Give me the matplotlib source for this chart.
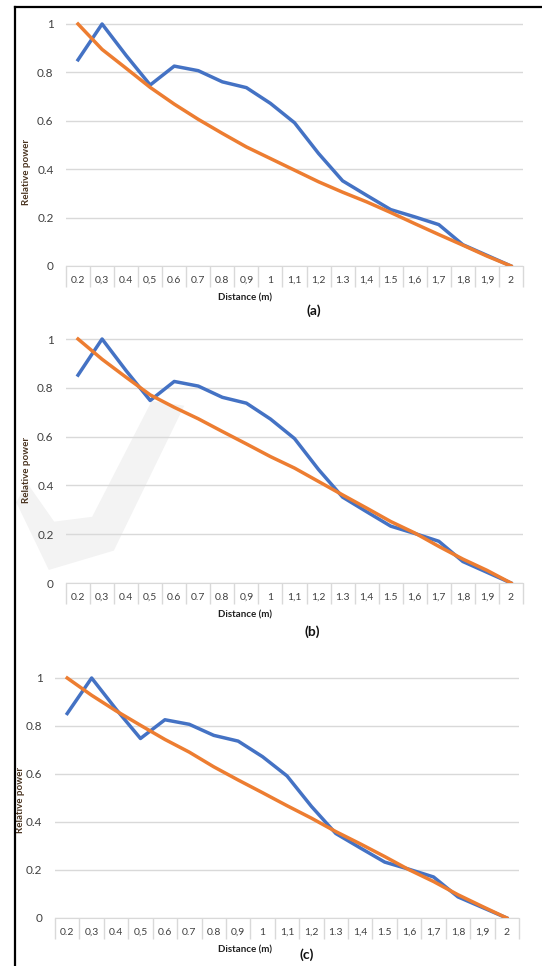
import numpy as np
import matplotlib
matplotlib.use("Agg")
import matplotlib.pyplot as plt
from matplotlib.lines import Line2D

# distance categories (as printed on the axis)
distances = ["0.2", "0,3", "0.4", "0,5", "0.6", "0.7", "0.8", "0,9", "1", "1,1",
             "1,2", "1.3", "1,4", "1.5", "1,6", "1,7", "1,8", "1,9", "2"]

# measured relative power (same in all three panels)
measured = [0.852, 1.0, 0.87, 0.748, 0.826, 0.807, 0.761, 0.737, 0.672, 0.592,
            0.465, 0.352, 0.292, 0.233, 0.203, 0.171, 0.088, 0.044, 0.0]

# model curves for (a), (b), (c)
model_a = [1.0, 0.895, 0.817, 0.738, 0.669, 0.606, 0.548, 0.492, 0.444, 0.396,
           0.348, 0.305, 0.265, 0.221, 0.175, 0.130, 0.086, 0.041, 0.0]
model_b = [1.0, 0.917, 0.843, 0.771, 0.720, 0.673, 0.621, 0.570, 0.518, 0.471,
           0.416, 0.361, 0.307, 0.252, 0.205, 0.150, 0.098, 0.052, 0.0]
model_c = [1.0, 0.928, 0.863, 0.803, 0.744, 0.691, 0.630, 0.575, 0.522, 0.468,
           0.416, 0.360, 0.309, 0.256, 0.201, 0.152, 0.097, 0.048, 0.0]

yticks = [0, 0.2, 0.4, 0.6, 0.8, 1]
ytick_labels = ["0", "0.2", "0.4", "0.6", "0.8", "1"]

BLUE = "#4472C4"
ORANGE = "#ED7D31"
GRID = "#d9d9d9"

plt.rcParams["font.family"] = ["Lato", "DejaVu Sans"]

W, H = 542, 966
fig = plt.figure(figsize=(W / 100, H / 100), dpi=100)

# faint check-mark shape from the publisher watermark
check = plt.Polygon([(0.03, 0.48), (0.09, 0.41), (0.21, 0.43), (0.34, 0.58),
                     (0.28, 0.585), (0.17, 0.465), (0.10, 0.46), (0.05, 0.50)],
                    closed=True, transform=fig.transFigure, color="#f3f3f3",
                    zorder=0, lw=0)
fig.add_artist(check)

# panels: tag, model, left px, right px, zero px, unit px,
# ylabel x/y (axes coords), xlabel y px, tag x px, tag y px
panels = [
    ("(a)", model_a, 66, 523, 266, 242, -0.077, 0.37, 298, 314, 311),
    ("(b)", model_b, 66, 523, 583, 244, -0.077, 0.44, 615, 312, 632),
    ("(c)", model_c, 55, 519, 918, 240, -0.065, 0.47, 950, 307, 955),
]

x = np.arange(len(distances))
ytop = 1.05

for tag, model, left, right, zero, unit, ylx, yly, xly, tx, ty in panels:
    ax = fig.add_axes([left / W, (H - zero) / H, (right - left) / W,
                       unit * ytop / H])
    ax.patch.set_alpha(0)
    ax.plot(x, measured, color=BLUE, lw=2.5, solid_joinstyle="round", zorder=3)
    ax.plot(x, model, color=ORANGE, lw=2.5, solid_joinstyle="round", zorder=4)

    ax.set_xlim(-0.5, len(distances) - 0.5)
    ax.set_ylim(0, ytop)

    ax.set_yticks(yticks)
    ax.set_yticklabels(ytick_labels)
    ax.tick_params(axis="y", length=0, pad=9, labelsize=8.5, labelcolor="#404040")
    ax.yaxis.grid(True, color=GRID, lw=1)
    ax.set_axisbelow(True)

    # category box under the axis
    ax.set_xticks(np.arange(len(distances) + 1) - 0.5)
    ax.set_xticklabels([])
    ax.tick_params(axis="x", which="major", length=15, color=GRID, width=1,
                   direction="out")
    ax.set_xticks(x, minor=True)
    ax.set_xticklabels(distances, minor=True)
    ax.tick_params(axis="x", which="minor", length=0, pad=7, labelsize=7.5,
                   labelcolor="#404040")

    for s in ["top", "right", "left"]:
        ax.spines[s].set_visible(False)
    ax.spines["bottom"].set_color(GRID)

    ax.set_ylabel("Relative power", fontsize=7, fontweight="bold",
                  color="#4a3420")
    ax.yaxis.set_label_coords(ylx, yly)

    fig.text(245 / W, 1 - xly / H, "Distance (m)", fontsize=7,
             fontweight="bold", color="#202020", ha="center", va="center")
    fig.text(tx / W, 1 - ty / H, tag, fontsize=10, fontweight="bold",
             color="#111111", ha="center", va="center")

# page frame (left and top edges)
fig.add_artist(Line2D([15 / W, 15 / W], [0, 1 - 7 / H], color="black", lw=1.6,
                      transform=fig.transFigure))
fig.add_artist(Line2D([15 / W, 1], [1 - 7 / H, 1 - 7 / H], color="black",
                      lw=1.6, transform=fig.transFigure))

fig.savefig("out.png", dpi=100, facecolor="white")
